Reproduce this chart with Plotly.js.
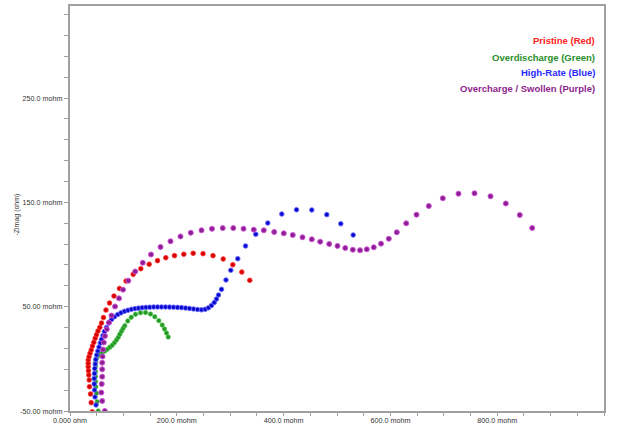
<!DOCTYPE html>
<html>
<head>
<meta charset="utf-8">
<script src="https://cdn.plot.ly/plotly-3.0.1.min.js"></script>
<style>html,body{margin:0;padding:0;background:#fff}#chart{width:620px;height:427px}</style>
</head>
<body>
<div id="chart"></div>
<script>
// Nyquist data (Zreal in mohm, -Zimag in mohm)
const pristineX = [41.6,39.7,38.4,36.5,36.0,35.2,34.6,34.1,34.1,34.1,35.6,37.5,39.7,42.1,44.6,47.2,49.6,52.4,55.8,59.0,62.7,67.4,74.0,82.4,92.7,104.9,118.4,132.6,148.3,163.9,179.4,195.7,213.1,230.7,249.1,267.8,286.9,304.9,321.7,336.7];
const pristineY = [-50.7,-42.0,-33.7,-26.7,-20.3,-15.5,-11.4,-7.5,-4.3,-1.1,2.0,5.3,8.5,12.3,15.8,19.7,23.1,26.7,30.2,34.3,39.6,46.8,53.5,60.2,67.4,74.6,81.0,86.4,90.7,94.1,96.9,98.9,100.3,101.2,100.8,98.9,95.7,90.2,83.2,75.3];

const overdischargeX = [52.8,50.9,49.6,48.3,47.8,47.8,47.8,47.8,48.3,49.6,52.1,55.8,60.3,65.2,69.7,74.5,79.0,83.3,87.1,90.3,93.3,96.4,99.3,102.6,108.2,114.6,122.7,132.0,141.4,150.7,158.8,166.3,172.7,177.0,180.7,183.9];
const overdischargeY = [-50.0,-41.1,-33.0,-26.7,-21.9,-17.1,-12.3,-7.5,-2.7,0.5,2.7,4.6,5.9,7.5,9.1,11.1,13.0,15.5,18.1,20.6,23.5,26.4,29.1,31.8,36.3,39.8,42.7,44.2,44.4,43.0,40.4,36.6,32.4,28.6,24.8,20.9];

const highRateX = [48.7,46.8,45.9,45.3,45.3,45.9,46.3,47.2,48.3,50.0,52.1,54.3,56.7,59.0,61.8,64.6,68.4,72.7,77.7,83.3,89.5,95.5,102.1,108.6,115.2,121.7,128.3,135.2,142.3,149.4,156.7,163.9,171.3,178.8,186.3,193.8,201.3,208.8,216.3,223.8,231.3,238.8,246.3,253.2,259.4,265.0,270.2,274.3,278.1,283.7,292.1,301.1,314.2,328.7,347.9,370.4,396.6,424.2,452.8,480.9,507.1,530.3];
const highRateY = [-44.2,-36.6,-29.9,-24.1,-18.8,-14.1,-9.3,-5.0,-0.6,3.7,7.5,11.3,15.2,18.7,22.4,26.2,30.0,34.3,37.7,40.4,42.5,44.1,45.6,46.6,47.5,48.1,48.6,49.0,49.3,49.5,49.7,49.7,49.7,49.7,49.6,49.5,49.3,49.1,48.7,48.3,47.8,47.3,47.0,47.5,48.9,51.1,54.0,57.3,61.2,66.6,75.6,84.9,96.0,108.2,119.4,130.2,138.8,142.9,142.7,138.2,129.5,118.7];

const overchargeX = [65.2,60.3,58.6,59.4,60.3,60.3,60.3,60.9,61.8,63.3,65.5,68.9,73.0,77.7,84.3,91.8,99.3,109.2,122.1,136.3,151.7,169.5,188.2,206.9,226.2,246.3,265.9,286.0,305.8,324.9,344.2,362.9,382.4,400.4,417.2,435.4,452.8,468.5,485.4,500.9,515.4,529.6,543.1,555.8,568.9,582.4,597.0,612.0,629.6,648.9,671.9,698.1,727.5,757.5,787.5,816.1,842.3,865.5];
const overchargeY = [-50.0,-40.4,-32.3,-24.1,-17.1,-10.0,-3.7,2.2,8.9,15.7,21.9,28.3,34.8,41.5,50.2,58.0,66.3,74.9,83.7,92.1,100.0,107.2,112.7,117.3,120.8,123.2,124.6,125.3,125.3,124.7,123.8,123.2,121.6,120.3,118.7,116.5,114.6,112.3,110.1,108.2,106.2,104.6,104.1,105.0,106.9,110.4,115.1,121.3,129.9,138.2,146.5,153.9,158.3,158.7,155.8,148.9,137.9,125.4];

const seriesNames = ["Pristine (Red)", "Overdischarge (Green)", "High-Rate (Blue)", "Overcharge / Swollen (Purple)"];
const seriesColors = ["#ff2020", "#2a8f2a", "#2a2aff", "#8e1f8e"];

const xTickVals = [0, 200, 400, 600, 800, 1000];
const xTickText = ["0.000 ohm", "200.0 mohm", "400.0 mohm", "600.0 mohm", "800.0 mohm", "1.000 ohm"];
const yTickVals = [-50, 50, 150, 250];
const yTickText = ["-50.00 mohm", "50.00 mohm", "150.0 mohm", "250.0 mohm"];

const traces = [
  {x: pristineX, y: pristineY, name: seriesNames[0], type: "scatter", mode: "markers",
   marker: {size: 4.6, color: "#d00000", line: {color: "#ff3030", width: 0.9}}},
  {x: overdischargeX, y: overdischargeY, name: seriesNames[1], type: "scatter", mode: "markers",
   marker: {size: 4.4, color: "#249a24", line: {color: "#50c050", width: 0.7}}},
  {x: highRateX, y: highRateY, name: seriesNames[2], type: "scatter", mode: "markers",
   marker: {size: 4.6, color: "#0808cc", line: {color: "#6a6aff", width: 0.9}}},
  {x: overchargeX, y: overchargeY, name: seriesNames[3], type: "scatter", mode: "markers",
   marker: {size: 5, color: "#8a1f92", line: {color: "#d050d8", width: 1}}}
];

const legendY = [0.916, 0.874, 0.836, 0.797];
const annotations = seriesNames.map((n, i) => ({
  text: n, xref: "paper", yref: "paper", x: 0.987, y: legendY[i],
  xanchor: "right", yanchor: "middle", showarrow: false,
  font: {family: "Liberation Sans, Arial, sans-serif", size: 9.5, color: seriesColors[i], weight: "bold"}
}));
annotations.push({
  text: "-Zimag (ohm)", xref: "paper", yref: "paper", x: -0.1, y: 0.484,
  xanchor: "center", yanchor: "middle", textangle: -90, showarrow: false,
  font: {family: "Liberation Sans, Arial, sans-serif", size: 7, color: "#333"}
});

const axisFont = {family: "Liberation Sans, Arial, sans-serif", size: 7.2, color: "#333"};

const layout = {
  width: 620, height: 427,
  margin: {l: 70, r: 16, t: 6, b: 16, pad: 0},
  paper_bgcolor: "#fff", plot_bgcolor: "#fff",
  showlegend: false,
  xaxis: {
    range: [0, 1000], tickmode: "array", tickvals: xTickVals, ticktext: xTickText,
    ticks: "outside", ticklen: 3, tickcolor: "#a0a0a0", tickfont: axisFont, ticklabelstandoff: -2,
    showgrid: false, zeroline: false, showline: true, linecolor: "#a0a0a0", linewidth: 2, mirror: true,
    minor: {tickmode: "linear", tick0: 0, dtick: 50, ticks: "outside", ticklen: 3, tickcolor: "#a0a0a0", showgrid: false}
  },
  yaxis: {
    range: [-50, 338.2], tickmode: "array", tickvals: yTickVals, ticktext: yTickText,
    ticks: "outside", ticklen: 4, tickcolor: "#a0a0a0", tickfont: axisFont,
    showgrid: false, zeroline: false, showline: true, linecolor: "#a0a0a0", linewidth: 2, mirror: true,
    minor: {tickmode: "linear", tick0: -50, dtick: 20, ticks: "outside", ticklen: 4, tickcolor: "#a0a0a0", showgrid: false}
  },
  annotations: annotations
};

Plotly.newPlot("chart", traces, layout, {displayModeBar: false, staticPlot: true});
</script>
</body>
</html>
